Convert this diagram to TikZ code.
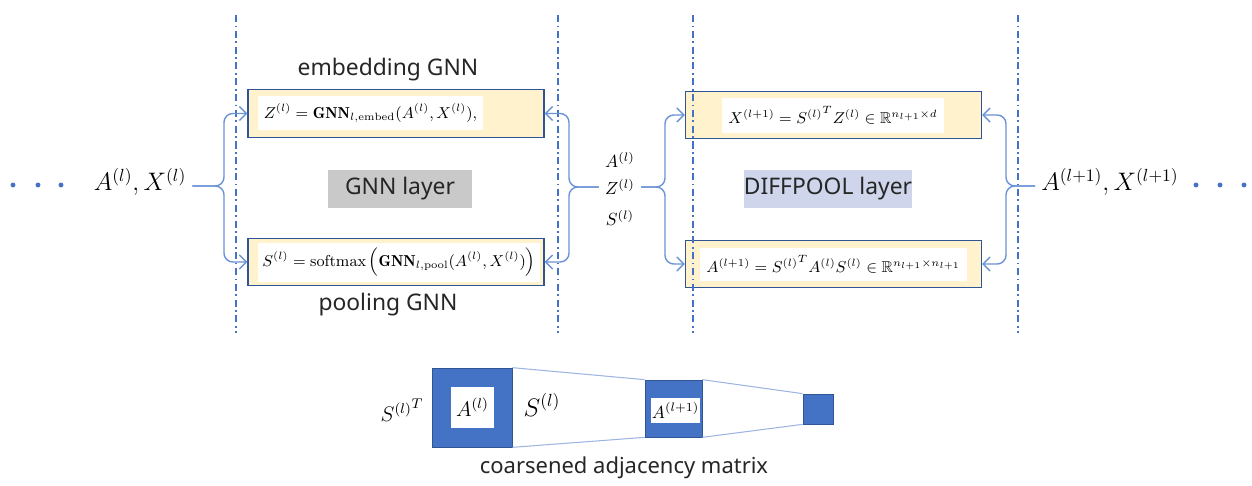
\documentclass[tikz,border=0pt]{standalone}
\usepackage{amssymb}
\usepackage{fontspec}
\setsansfont{Noto Sans}
\usetikzlibrary{arrows.meta}
\definecolor{lineblue}{HTML}{4472C4}
\definecolor{connblue}{HTML}{6A92D6}
\definecolor{boxblue}{HTML}{2F5597}
\definecolor{boxyellow}{HTML}{FFF2CC}
\definecolor{layergray}{HTML}{C9C9C9}
\definecolor{layerblue}{HTML}{CFD5EA}
\definecolor{thinblue}{HTML}{9DB5E0}
\tikzset{
  gnnbox/.style={draw=boxblue, fill=boxyellow, line width=0.8pt, minimum width=5.92cm, minimum height=0.95cm, inner sep=0pt},
  eqbox/.style={fill=white, inner sep=0pt, font=\small},
  conn/.style={->, draw=connblue, line width=0.8pt, rounded corners=5pt},
  sectlabel/.style={font=\sffamily\fontsize{13}{15}\selectfont, text=black!85},
  layerlabel/.style={sectlabel, minimum width=2.9cm, minimum height=0.76cm, inner sep=0pt},
  matbox/.style={draw=boxblue, fill=lineblue, inner sep=0pt},
  divider/.style={lineblue, line width=1pt, dash pattern=on 4pt off 2pt on 1pt off 2pt},
}
\begin{document}
\begin{tikzpicture}[x=0.02cm,y=-0.02cm,>={Straight Barb[length=4pt,width=8pt]}]%[>=latex]
	\useasboundingbox (0,0) rectangle (1252,486);

	\node (emb) [gnnbox] at (396,113.5) {};
	\node (pool) [gnnbox] at (396,262) {};
	\node (xnew) [gnnbox] at (833.5,115) {};
	\node (anew) [gnnbox] at (833.5,264) {};

	\node (embeq) [eqbox, minimum width=4.5cm, minimum height=0.68cm] at (370.5,113) {$Z^{(l)} = \mathbf{GNN}_{l,\mathrm{embed}}(A^{(l)},X^{(l)}),$};
	\node (pooleq) [eqbox, minimum width=5.64cm, minimum height=0.78cm] at (399,262.5) {$S^{(l)} = \mathrm{softmax}\left(\mathbf{GNN}_{l,\mathrm{pool}}(A^{(l)},X^{(l)})\right)$};
	\node (xneweq) [eqbox, minimum width=4.44cm, minimum height=0.7cm] at (833,115.5) {$X^{(l+1)} = {S^{(l)}}^T Z^{(l)} \in \mathbb{R}^{n_{l+1}\times d}$};
	\node (aneweq) [eqbox, minimum width=5.34cm, minimum height=0.66cm] at (833.5,264.5) {$A^{(l+1)} = {S^{(l)}}^T A^{(l)} S^{(l)} \in \mathbb{R}^{n_{l+1}\times n_{l+1}}$};

	\foreach \x in {236,558,693,1018}
		\draw [divider] (\x,15) -- (\x,333);

	\node (embt) [sectlabel] at (388,70) {embedding GNN};
	\node (poolt) [sectlabel] at (388,305) {pooling GNN};
	\node (gnnl) [layerlabel, fill=layergray] at (400,189) {GNN layer};
	\node (diffl) [layerlabel, fill=layerblue, minimum width=3.36cm] at (828,189) {DIFFPOOL layer};

	\foreach \x in {13,38,61,1196,1220,1244}
		\fill [lineblue] (\x,185) circle (1.4pt);

	\node (axl) [font=\Large] at (140,182) {$A^{(l)},X^{(l)}$};
	\node (axn) [font=\Large] at (1110,182) {$A^{(l+1)},X^{(l+1)}$};
	\node (al) at (620,160) {$A^{(l)}$};
	\node (zl) at (620,187) {$Z^{(l)}$};
	\node (sl) at (620,218) {$S^{(l)}$};

	\draw [conn] (axl.east |- 0,186) -- (224,186) |- (emb.west);
	\draw [conn] (axl.east |- 0,186) -- (224,186) |- (pool.west);
	\draw [conn] (zl.west) -- (569,187) |- (emb.east);
	\draw [conn] (zl.west) -- (569,187) |- (pool.east);
	\draw [conn] (zl.east) -- (665,187) |- (xnew.west);
	\draw [conn] (zl.east) -- (665,187) |- (anew.west);
	\draw [conn] (axn.west |- 0,186) -- (1006,186) |- (xnew.east);
	\draw [conn] (axn.west |- 0,186) -- (1006,186) |- (anew.east);

	\node (big) [matbox, minimum width=1.6cm, minimum height=1.58cm] at (472,407.5) {};
	\node (bigin) [fill=white, inner sep=0pt, minimum width=0.86cm, minimum height=0.82cm, font=\large] at (472.5,407.5) {$A^{(l)}$};
	\node (mid) [matbox, minimum width=1.14cm, minimum height=1.14cm] at (673.5,408.5) {};
	\node (midin) [fill=white, inner sep=0pt, minimum width=0.98cm, minimum height=0.5cm] at (675.5,410.5) {$A^{(l+1)}$};
	\node (small) [matbox, minimum width=0.6cm, minimum height=0.6cm] at (818,409) {};
	\draw [thinblue, line width=0.6pt] (big.north east) -- (mid.north west);
	\draw [thinblue, line width=0.6pt] (big.south east) -- (mid.south west);
	\draw [thinblue, line width=0.6pt] (mid.north east) -- (small.north west);
	\draw [thinblue, line width=0.6pt] (mid.south east) -- (small.south west);
	\node (st) [font=\large] at (402,410) {${S^{(l)}}^T$};
	\node (s) [font=\Large] at (542,405) {$S^{(l)}$};
	\node (coars) [sectlabel, font=\sffamily\fontsize{12.5}{15}\selectfont] at (624,468) {coarsened adjacency matrix};
\end{tikzpicture}
\end{document}
